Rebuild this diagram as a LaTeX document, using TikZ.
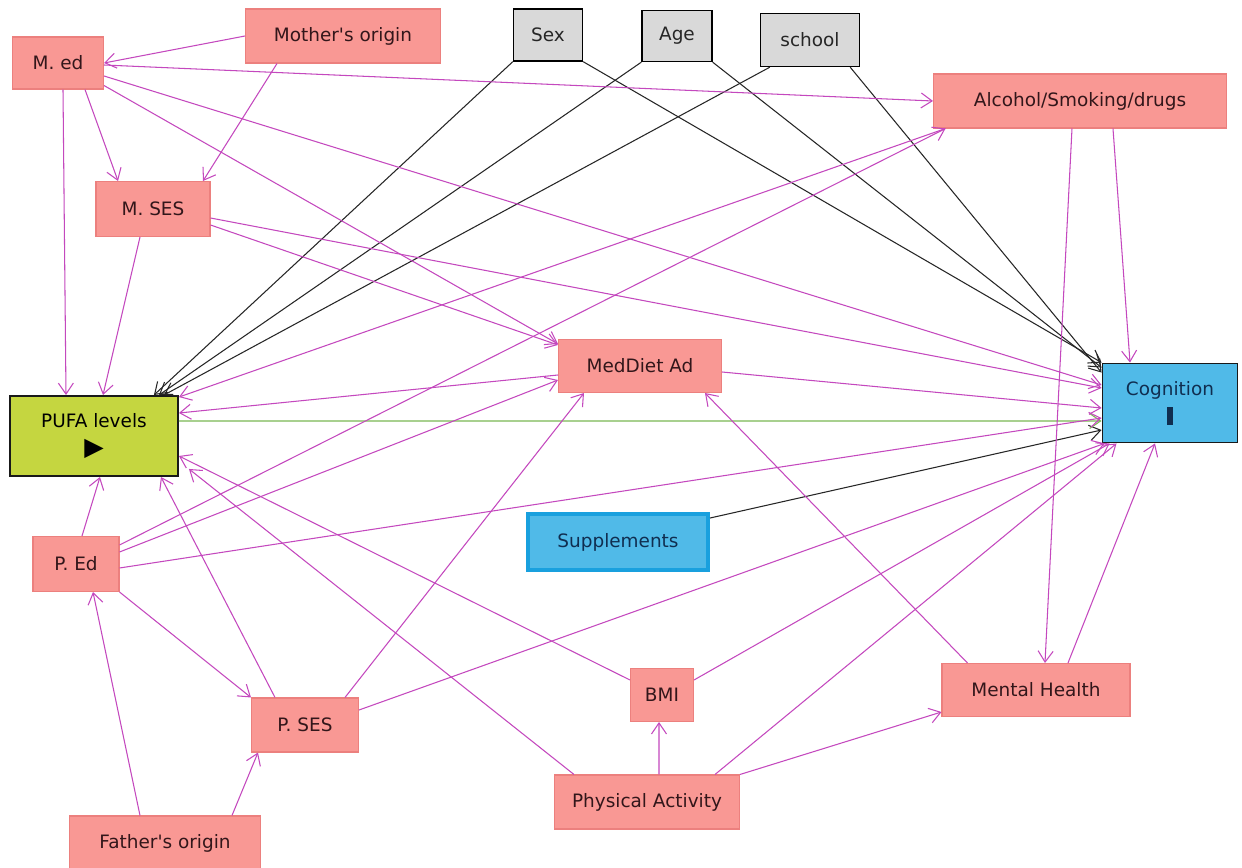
\documentclass[tikz,border=0pt]{standalone}
\usepackage{fontspec}
\setmainfont{DejaVu Sans}
\usetikzlibrary{arrows.meta}

\definecolor{boxpink}{RGB}{249,152,148}
\definecolor{boxline}{RGB}{236,128,126}
\definecolor{adjgrey}{RGB}{217,217,217}
\definecolor{expogreen}{RGB}{197,214,64}
\definecolor{outblue}{RGB}{80,186,232}
\definecolor{suppline}{RGB}{25,160,222}
\definecolor{edgepink}{RGB}{196,72,190}
\definecolor{edgegreen}{RGB}{122,184,84}
\definecolor{txtdark}{RGB}{50,22,26}
\definecolor{txtblue}{RGB}{16,46,80}

\begin{document}
\begin{tikzpicture}[x=0.02cm,y=-0.02cm,
	lbl/.style={inner sep=0pt,align=center,font=\fontsize{10.5}{12.5}\selectfont},
	var/.style={lbl,draw=boxline,fill=boxpink,line width=0.6pt,text=txtdark},
	adj/.style={lbl,draw=black,fill=adjgrey,line width=0.8pt,text=black!85},
	expo/.style={lbl,draw=black!90,fill=expogreen,line width=1.1pt,text=black},
	outc/.style={lbl,draw=black!90,fill=outblue,line width=1.1pt,text=txtblue},
	supbox/.style={lbl,draw=suppline,fill=outblue,line width=2.4pt,text=txtblue},
	link/.style={draw=edgepink,line width=0.6pt,-{Straight Barb[length=2.2mm,width=3mm]}},
	blink/.style={link,draw=black!85},
	glink/.style={link,draw=edgegreen}]

		\fill[white] (0,0) rectangle (1242,868);
		\useasboundingbox (0,0) rectangle (1242,868);

		\node[var,minimum width=1.82cm,minimum height=1.04cm] (medu) at (58,63) {M. ed};
		\node[var,minimum width=3.9cm,minimum height=1.08cm] (morig) at (343,36) {Mother\textquotesingle s origin};
		\node[var,minimum width=2.28cm,minimum height=1.1cm] (mses) at (153,209) {M. SES};
		\node[adj,minimum width=1.38cm,minimum height=1.04cm] (sex) at (548,35) {Sex};
		\node[adj,minimum width=1.4cm,minimum height=1.02cm] (age) at (677,36) {Age};
		\node[adj,minimum width=1.98cm,minimum height=1.06cm] (school) at (810,40) {school};
		\node[var,minimum width=5.86cm,minimum height=1.08cm] (alc) at (1080,101) {Alcohol/Smoking/drugs};
		\node[expo,minimum width=3.36cm,minimum height=1.6cm] (pufa) at (94,436) {PUFA levels\\[3pt]{\Large ▶}};
		\node[var,minimum width=3.26cm,minimum height=1.06cm] (med) at (640,366) {MedDiet Ad};
		\node[outc,minimum width=2.7cm,minimum height=1.58cm] (cog) at (1170,403) {Cognition\\[4pt]\rule{3pt}{10pt}};
		\node[supbox,minimum width=3.6cm,minimum height=1.12cm] (supp) at (618,542) {Supplements};
		\node[var,minimum width=1.72cm,minimum height=1.1cm] (ped) at (76,564) {P. Ed};
		\node[var,minimum width=2.14cm,minimum height=1.08cm] (pses) at (305,725) {P. SES};
		\node[var,minimum width=3.82cm,minimum height=1.08cm] (forig) at (165,843) {Father\textquotesingle s origin};
		\node[var,minimum width=1.26cm,minimum height=1.06cm] (bmi) at (662,695) {BMI};
		\node[var,minimum width=3.76cm,minimum height=1.06cm] (mh) at (1036,690) {Mental Health};
		\node[var,minimum width=3.7cm,minimum height=1.08cm] (phys) at (647,802) {Physical Activity};

		\draw[blink] (sex.south west) -- ([xshift=-0.5cm]pufa.north east);
		\draw[blink] (age.south west) -- ([xshift=-0.4cm]pufa.north east);
		\draw[blink] ([xshift=0.2cm]school.south west) -- ([xshift=-0.3cm]pufa.north east);
		\draw[blink] (sex.south east) -- (cog.north west);
		\draw[blink] (age.south east) -- ([yshift=-0.1cm]cog.north west);
		\draw[blink] ([xshift=-0.2cm]school.south east) -- ([yshift=-0.2cm]cog.north west);
		\draw[blink] ([yshift=0.48cm]supp.east) -- ([yshift=-0.54cm]cog.west);

		\draw[glink] ([yshift=0.3cm]pufa.east) -- ([yshift=-0.36cm]cog.west);

		\draw[link] (morig.west) -- (medu.east);
		\draw[link] ([xshift=-1.32cm]morig.south) -- ([xshift=1cm]mses.north);
		\draw[link] ([yshift=-0.04cm]medu.east) -- (alc.west);
		\draw[link] ([xshift=0.54cm]medu.south) -- ([xshift=-0.7cm]mses.north);
		\draw[link] ([xshift=0.1cm]medu.south) -- ([xshift=-0.56cm]pufa.north);
		\draw[link] ([yshift=0.08cm]medu.south east) -- ([yshift=-0.1cm]med.north west);
		\draw[link] ([yshift=-0.26cm]medu.east) -- ([yshift=0.36cm]cog.west);

		\draw[link] ([xshift=-0.26cm]mses.south) -- ([xshift=0.18cm]pufa.north);
		\draw[link] ([yshift=-0.32cm]mses.east) -- ([yshift=-0.12cm]med.north west);
		\draw[link] ([yshift=-0.18cm]mses.east) -- ([yshift=0.3cm]cog.west);

		\draw[link] ([xshift=0.25cm]alc.south west) -- ([yshift=-0.04cm]pufa.north east);
		\draw[link] ([xshift=-0.16cm]alc.south) -- ([xshift=0.18cm]mh.north);
		\draw[link] ([xshift=0.66cm]alc.south) -- ([xshift=-0.8cm]cog.north);

		\draw[link] ([yshift=-0.18cm]med.west) -- ([yshift=0.46cm]pufa.east);
		\draw[link] ([yshift=-0.12cm]med.east) -- ([yshift=-0.1cm]cog.west);

		\draw[link] ([xshift=0.12cm]ped.north) -- ([xshift=0.12cm]pufa.south);
		\draw[link] ([yshift=0.38cm]ped.east) -- ([xshift=0.25cm]alc.south west);
		\draw[link] ([yshift=0.24cm]ped.east) -- ([yshift=0.26cm]med.south west);
		\draw[link] ([yshift=-0.08cm]ped.east) -- ([yshift=-0.3cm]cog.west);
		\draw[link] (ped.south east) -- (pses.north west);

		\draw[link] ([xshift=-0.5cm]forig.north) -- ([xshift=0.34cm]ped.south);
		\draw[link] ([xshift=1.34cm]forig.north) -- ([xshift=0.14cm]pses.south west);

		\draw[link] ([xshift=-0.6cm]pses.north) -- ([xshift=-0.36cm]pufa.south east);
		\draw[link] ([xshift=0.8cm]pses.north) -- ([xshift=0.52cm]med.south west);
		\draw[link] ([yshift=0.3cm]pses.east) -- ([xshift=0.06cm]cog.south west);

		\draw[link] ([yshift=0.3cm]bmi.west) -- ([yshift=-0.4cm]pufa.east);
		\draw[link] ([yshift=0.3cm]bmi.east) -- ([xshift=0.16cm]cog.south west);

		\draw[link] ([xshift=0.24cm]phys.north) -- ([xshift=-0.06cm]bmi.south);
		\draw[link] ([xshift=0.4cm]phys.north west) -- ([xshift=0.2cm,yshift=0.16cm]pufa.south east);
		\draw[link] (phys.north east) -- ([yshift=-0.44cm]mh.west);
		\draw[link] ([xshift=-0.5cm]phys.north east) -- ([xshift=0.3cm]cog.south west);

		\draw[link] ([xshift=0.52cm]mh.north west) -- ([xshift=-0.34cm]med.south east);
		\draw[link] ([xshift=0.64cm]mh.north) -- ([xshift=-0.3cm]cog.south);

	\end{tikzpicture}
\end{document}
